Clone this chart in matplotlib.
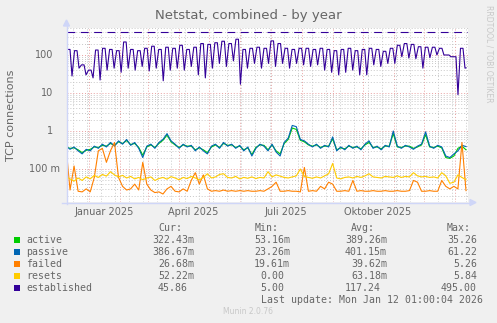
import numpy as np
import pandas as pd
import matplotlib
matplotlib.use('Agg')
import matplotlib.pyplot as plt
import matplotlib.transforms as mtransforms
from matplotlib.patches import Rectangle, Polygon
from matplotlib.lines import Line2D

W, H = 497, 323

# time range of the year view
start = pd.Timestamp('2024-12-09')
end = pd.Timestamp('2026-01-12')
x_min = pd.Timestamp('2024-12-10')
x_max = pd.Timestamp('2026-01-14')
times = pd.date_range(start, end, periods=100)

# series sampled every ~4 days
active = [0.38, 0.35, 0.36, 0.32, 0.27, 0.31, 0.33, 0.38, 0.37, 0.42,
          0.40, 0.47, 0.42, 0.52, 0.47, 0.56, 0.44, 0.47, 0.37, 0.23,
          0.38, 0.43, 0.37, 0.47, 0.57, 0.78, 0.52, 0.43, 0.37, 0.43,
          0.40, 0.40, 0.32, 0.36, 0.32, 0.27, 0.38, 0.43, 0.37, 0.47,
          0.42, 0.43, 0.37, 0.40, 0.32, 0.36, 0.24, 0.37, 0.43, 0.42,
          0.32, 0.43, 0.30, 0.25, 0.47, 0.60, 1.20, 1.10, 0.57, 0.52,
          0.43, 0.40, 0.43, 0.37, 0.40, 0.40, 0.62, 0.32, 0.36, 0.34,
          0.40, 0.37, 0.38, 0.34, 0.43, 0.50, 0.37, 0.38, 0.34, 0.40,
          0.40, 0.85, 0.38, 0.37, 0.40, 0.40, 0.35, 0.38, 0.43, 0.80,
          0.38, 0.37, 0.40, 0.36, 0.20, 0.19, 0.22, 0.35, 0.40, 0.32]
passive = [0.40, 0.33, 0.38, 0.30, 0.25, 0.33, 0.30, 0.40, 0.35, 0.45,
           0.38, 0.50, 0.40, 0.55, 0.45, 0.60, 0.42, 0.50, 0.35, 0.20,
           0.40, 0.45, 0.35, 0.50, 0.60, 0.85, 0.55, 0.45, 0.35, 0.45,
           0.38, 0.42, 0.30, 0.38, 0.30, 0.25, 0.40, 0.45, 0.35, 0.50,
           0.40, 0.45, 0.35, 0.42, 0.30, 0.38, 0.22, 0.35, 0.45, 0.40,
           0.30, 0.45, 0.28, 0.22, 0.50, 0.65, 1.40, 1.30, 0.60, 0.55,
           0.45, 0.38, 0.45, 0.35, 0.42, 0.38, 0.70, 0.30, 0.38, 0.32,
           0.42, 0.35, 0.40, 0.32, 0.45, 0.55, 0.35, 0.40, 0.32, 0.42,
           0.38, 1.00, 0.40, 0.35, 0.42, 0.38, 0.33, 0.40, 0.45, 0.95,
           0.40, 0.35, 0.42, 0.38, 0.22, 0.20, 0.25, 0.30, 0.42, 0.39]
failed = [0.40, 0.028, 0.12, 0.026, 0.025, 0.030, 0.025, 0.060, 0.30, 0.35,
          0.15, 0.30, 0.50, 0.060, 0.035, 0.028, 0.030, 0.040, 0.028, 0.15,
          0.040, 0.028, 0.024, 0.025, 0.022, 0.030, 0.035, 0.026, 0.025, 0.030,
          0.026, 0.050, 0.080, 0.040, 0.070, 0.030, 0.026, 0.027, 0.026, 0.028,
          0.026, 0.027, 0.026, 0.027, 0.026, 0.027, 0.026, 0.026, 0.027, 0.026,
          0.030, 0.035, 0.045, 0.026, 0.026, 0.027, 0.026, 0.026, 0.025, 0.110,
          0.026, 0.027, 0.026, 0.035, 0.030, 0.045, 0.040, 0.026, 0.026, 0.027,
          0.026, 0.050, 0.026, 0.027, 0.026, 0.026, 0.027, 0.026, 0.026, 0.027,
          0.026, 0.026, 0.027, 0.026, 0.026, 0.027, 0.050, 0.045, 0.026, 0.026,
          0.027, 0.026, 0.026, 0.050, 0.035, 0.030, 0.035, 0.030, 0.50, 0.027]
resets = [0.063, 0.055, 0.048, 0.058, 0.050, 0.062, 0.055, 0.068, 0.060, 0.072,
          0.065, 0.085, 0.070, 0.062, 0.068, 0.058, 0.064, 0.055, 0.060, 0.052,
          0.058, 0.062, 0.050, 0.056, 0.060, 0.054, 0.063, 0.058, 0.052, 0.060,
          0.056, 0.064, 0.058, 0.052, 0.060, 0.075, 0.058, 0.062, 0.072, 0.075,
          0.060, 0.058, 0.064, 0.055, 0.060, 0.057, 0.062, 0.056, 0.060, 0.058,
          0.085, 0.062, 0.070, 0.065, 0.060, 0.058, 0.062, 0.066, 0.100, 0.064,
          0.060, 0.057, 0.062, 0.058, 0.066, 0.075, 0.140, 0.058, 0.055, 0.060,
          0.062, 0.058, 0.064, 0.060, 0.066, 0.075, 0.062, 0.060, 0.058, 0.064,
          0.062, 0.060, 0.066, 0.060, 0.064, 0.062, 0.080, 0.066, 0.062, 0.064,
          0.060, 0.062, 0.058, 0.080, 0.066, 0.042, 0.045, 0.070, 0.060, 0.052]

# established: weekday level and weekend dip for each week (Mon Dec 9 2024 ...)
est_hi = [140, 130, 55, 40, 135, 150, 140, 130, 220, 140,
          130, 150, 170, 140, 160, 150, 180, 140, 160, 200,
          190, 210, 230, 200, 260, 140, 150, 160, 150, 235,
          200, 150, 140, 150, 150, 140, 150, 140, 130, 140,
          150, 130, 140, 150, 140, 125, 150, 180, 200, 190,
          165, 160, 160, 150, 100, 90, 150]
est_lo = [28, 45, 30, 25, 22, 40, 45, 35, 45, 40,
          50, 38, 45, 21, 40, 45, 40, 50, 30, 25,
          45, 60, 50, 70, 17, 45, 60, 45, 60, 50,
          60, 45, 60, 55, 50, 55, 40, 35, 30, 35,
          40, 30, 30, 55, 50, 60, 60, 90, 83, 80,
          45, 85, 100, 100, 90, 9, 45]
est_last = 45.86
est_limit = 400

names = ['active', 'passive', 'failed', 'resets', 'established']
colors = ['#00CC00', '#0066B3', '#FF8000', '#FFCC00', '#330099']
cur = ['322.43m', '386.67m', '26.68m', '52.22m', '45.86']
mins = ['53.16m', '23.26m', '19.61m', '0.00', '5.00']
avgs = ['389.26m', '401.15m', '39.62m', '63.18m', '117.24']
maxs = ['35.26', '61.22', '5.26', '5.84', '495.00']

ytick_vals = [0.1, 1, 10, 100]
ytick_text = ['100 m', '1', '10', '100']
month_labels = ['Januar 2025', 'April 2025', 'Juli 2025', 'Oktober 2025']
month_label_dates = ['2025-01-16', '2025-04-15', '2025-07-16', '2025-10-16']

font_col = '#666666'
axis_col = '#CFD6F8'


def fx(x):
    return x / W


def fy(y):
    return 1 - y / H


fig = plt.figure(figsize=(W / 100, H / 100), dpi=100, facecolor='#F0F0F0')
ax = fig.add_axes([fx(67), fy(202), (468 - 67) / W, (202 - 28) / H])
ax.set_facecolor('white')
for s in ax.spines.values():
    s.set_visible(False)

ax.set_yscale('log')

# grid (ticks first, limits afterwards so they are not widened)
month_starts = pd.date_range('2025-01-01', '2026-01-01', freq='MS')
biweekly = pd.date_range(end=end, periods=29, freq='14D')
ax.set_xticks(month_starts)
ax.set_xticks(biweekly, minor=True)
ax.set_yticks(ytick_vals)
minor_y = [m * 10.0 ** e for e in range(-2, 3) for m in range(2, 10)]
ax.set_yticks(minor_y, minor=True)
ax.tick_params(which='both', length=0, labelbottom=False, labelleft=False)
ax.grid(which='major', color='#E8A0A0', linestyle=(0, (1, 2)), linewidth=0.7)
ax.grid(which='minor', color='#C8C8C8', linestyle=(0, (1, 2)), linewidth=0.7)
ax.set_axisbelow(True)

# series
lw = 0.8
ax.plot(times, active, color=colors[0], lw=lw)
ax.plot(times, passive, color=colors[1], lw=lw)
ax.plot(times, failed, color=colors[2], lw=lw)
ax.plot(times, resets, color=colors[3], lw=lw)

est_t = []
est_v = []
for w in range(len(est_hi)):
    ws = start + pd.Timedelta(days=7 * w)
    est_t += [ws + pd.Timedelta(hours=36), ws + pd.Timedelta(hours=96),
              ws + pd.Timedelta(hours=144)]
    est_v += [est_hi[w], est_hi[w], est_lo[w]]
est_t.append(end)
est_v.append(est_last)
ax.plot(est_t, est_v, color=colors[4], lw=lw)
ax.axhline(est_limit, color=colors[4], lw=0.8, dashes=(7, 5))

ax.set_ylim(0.01355, 513)
ax.set_xlim(x_min, x_max)

# tick labels
blend_y = mtransforms.blended_transform_factory(ax.transAxes, ax.transData)
for v, t in zip(ytick_vals, ytick_text):
    xr = 60 if t.endswith('m') else 53
    ax.text((xr - 67) / 401, v, t, transform=blend_y, ha='right', va='center',
            fontsize=7, color=font_col)
blend_x = mtransforms.blended_transform_factory(ax.transData, ax.transAxes)
for d, t in zip(month_label_dates, month_labels):
    ax.text(pd.Timestamp(d), -0.058, t, transform=blend_x, ha='center', va='center',
            fontsize=7, color=font_col)

# axes with arrows
fig.add_artist(Line2D([fx(66.5), fx(66.5)], [fy(204), fy(24)], color=axis_col, lw=1))
fig.add_artist(Line2D([fx(62), fx(470)], [fy(202.5), fy(202.5)], color=axis_col, lw=1))
fig.add_artist(Polygon([(fx(63.5), fy(26)), (fx(69.5), fy(26)), (fx(66.5), fy(20))],
                       closed=True, color=axis_col, transform=fig.transFigure))
fig.add_artist(Polygon([(fx(470), fy(199.5)), (fx(470), fy(205.5)), (fx(476), fy(202.5))],
                       closed=True, color=axis_col, transform=fig.transFigure))

# titles
fig.text(fx(248), fy(16), 'Netstat, combined - by year', ha='center', va='center',
         fontsize=9.5, color=font_col)
fig.text(fx(11), fy(115), 'TCP connections', rotation=90, ha='center', va='center',
         fontsize=8, color=font_col)
fig.text(fx(488.5), fy(54), 'RRDTOOL / TOBI OETIKER', rotation=270, ha='center',
         va='center', fontsize=5.5, color='#C8C8C8')

# legend table
mono = 'DejaVu Sans Mono'
fs = 7.1
cw = 5.95
row_y = [240, 252, 264, 276, 288]
for hx, h in zip([158, 255, 351, 447], ['Cur:', 'Min:', 'Avg:', 'Max:']):
    fig.text(fx(hx), fy(228), h, ha='left', va='center', family=mono, fontsize=fs,
             color=font_col)
for i, name in enumerate(names):
    y = row_y[i]
    fig.add_artist(Rectangle((fx(14), fy(y + 3)), 6 / W, 6 / H, facecolor=colors[i],
                             edgecolor='none', transform=fig.transFigure))
    fig.text(fx(26), fy(y), name, ha='left', va='center', family=mono, fontsize=fs,
             color=font_col)
    for col_r, vals in zip([188, 284, 381, 477], [cur, mins, avgs, maxs]):
        v = vals[i]
        xr = col_r + cw if v.endswith('m') else col_r
        fig.text(fx(xr), fy(y), v, ha='right', va='center', family=mono, fontsize=fs,
                 color=font_col)

fig.text(fx(483), fy(300), 'Last update: Mon Jan 12 01:00:04 2026', ha='right',
         va='center', family=mono, fontsize=fs, color=font_col)
fig.text(fx(248), fy(312), 'Munin 2.0.76', ha='center', va='center', fontsize=5.5,
         color='#C8C8C8')

fig.savefig('out.png', dpi=100, facecolor=fig.get_facecolor())
